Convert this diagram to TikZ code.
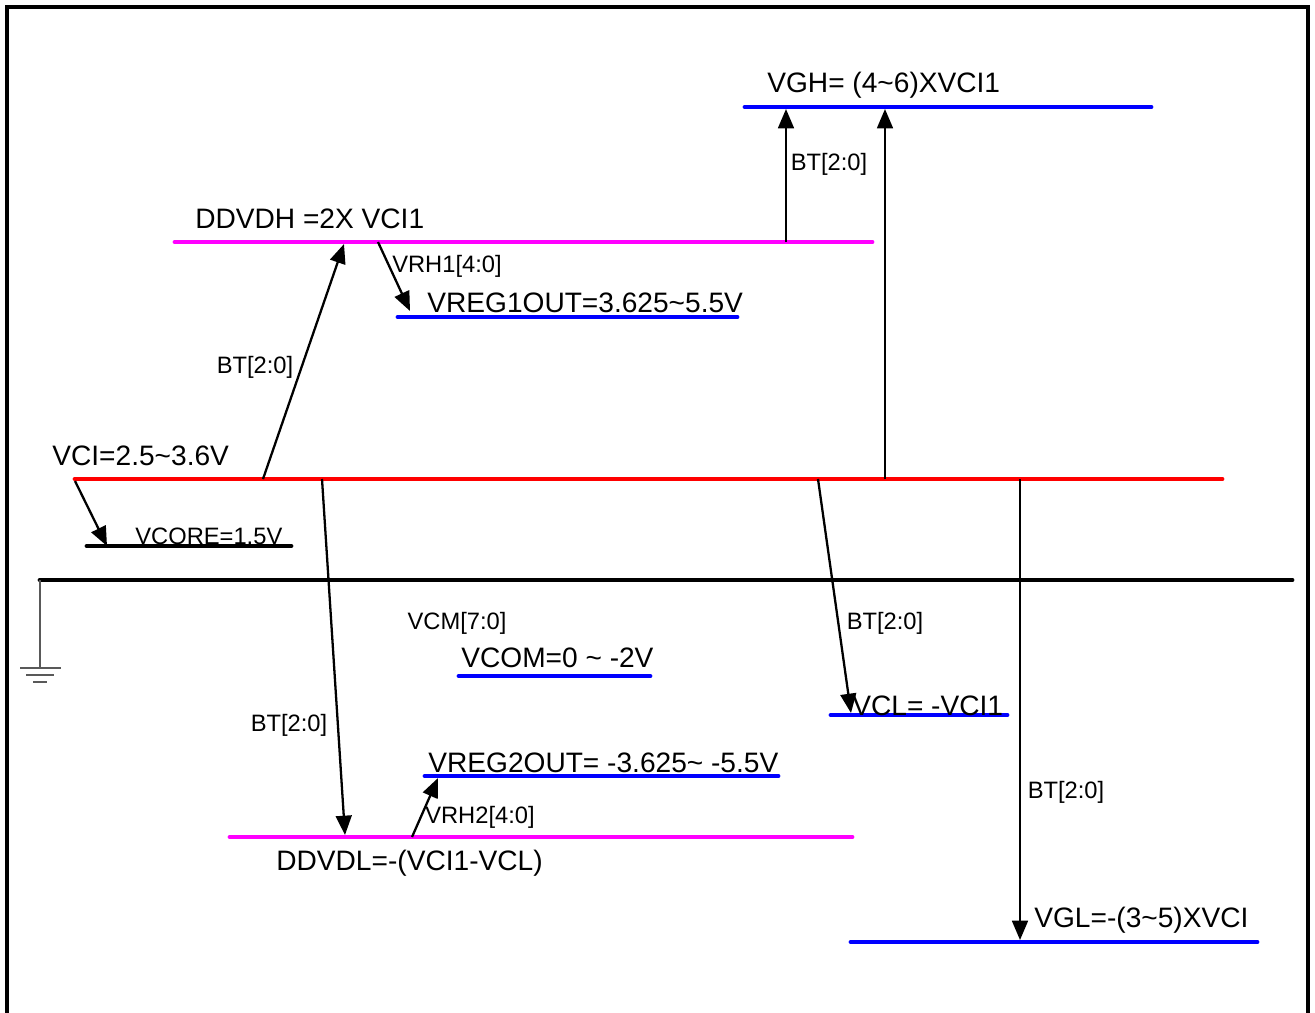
\documentclass[tikz,border=0pt]{standalone}
\usepackage{fontspec}
\setmainfont{Liberation Sans}
\usetikzlibrary{arrows.meta}
\definecolor{lvlblue}{RGB}{0,0,255}
\definecolor{lvlmag}{RGB}{255,0,255}
\definecolor{lvlred}{RGB}{255,0,0}

\begin{document}
\begin{tikzpicture}[x=0.02cm, y=-0.02cm,
        level/.style={line width=2.8pt, line cap=round},
        arr/.style={line width=1.3pt, -{Triangle[length=11pt,width=9pt]}},
        big/.style={font=\fontsize{16}{18}\selectfont, inner sep=0pt},
        small/.style={font=\fontsize{13.5}{15}\selectfont, inner sep=0pt}]
        \useasboundingbox (0,0) rectangle (1315,1012);

        % Frame
        \draw[line width=2.8pt] (7,1040) -- (7,7) -- (1308,7) -- (1308,1040);

        % Define level ends
        \coordinate (vgh-l)   at (745,107);  \coordinate (vgh-r)   at (1151,107);
        \coordinate (ddvdh-l) at (175,242);  \coordinate (ddvdh-r) at (872,242);
        \coordinate (vreg1-l) at (398,317);  \coordinate (vreg1-r) at (737,317);
        \coordinate (vci-l)   at (75,479);   \coordinate (vci-r)   at (1222,479);
        \coordinate (vcore-l) at (87,546);   \coordinate (vcore-r) at (291,546);
        \coordinate (gnd-l)   at (40,580);   \coordinate (gnd-r)   at (1292,580);
        \coordinate (vcom-l)  at (459,676);  \coordinate (vcom-r)  at (650,676);
        \coordinate (vcl-l)   at (831,715);  \coordinate (vcl-r)   at (1007,715);
        \coordinate (vreg2-l) at (425,776);  \coordinate (vreg2-r) at (778,776);
        \coordinate (ddvdl-l) at (230,837);  \coordinate (ddvdl-r) at (852,837);
        \coordinate (vgl-l)   at (851,942);  \coordinate (vgl-r)   at (1257,942);

        % Draw levels
        \draw[level, lvlblue] (vgh-l) -- (vgh-r);
        \draw[level, lvlmag]  (ddvdh-l) -- (ddvdh-r);
        \draw[level, lvlblue] (vreg1-l) -- (vreg1-r);
        \draw[level, lvlred]  (vci-l) -- (vci-r);
        \draw[level, black]   (vcore-l) -- (vcore-r);
        \draw[level, black]   (gnd-l) -- (gnd-r);
        \draw[level, lvlblue] (vcom-l) -- (vcom-r);
        \draw[level, lvlblue] (vcl-l) -- (vcl-r);
        \draw[level, lvlblue] (vreg2-l) -- (vreg2-r);
        \draw[level, lvlmag]  (ddvdl-l) -- (ddvdl-r);
        \draw[level, lvlblue] (vgl-l) -- (vgl-r);

        % Ground
        \coordinate (gnd-b) at (40,668);
        \draw[gray!70!black, line width=0.7pt] (gnd-l) -- (gnd-b);
        \draw[gray!70!black, line width=0.9pt] (20,668) -- (61,668)
            (26,675) -- (54,675) (33,682) -- (47,682);

        % Level labels
        \node[big, anchor=base west] (vgh)   at (767,92)  {VGH= (4\textasciitilde6)XVCI1};
        \node[big, anchor=base west] (ddvdh) at (195,228) {DDVDH =2X VCI1};
        \node[big, anchor=base west] (vreg1) at (427,312) {VREG1OUT=3.625\textasciitilde5.5V};
        \node[big, anchor=base west] (vci)   at (52,465)  {VCI=2.5\textasciitilde3.6V};
        \node[small, anchor=base west] (vcore) at (135,544) {VCORE=1.5V};
        \node[big, anchor=base west] (vcom)  at (461,667) {VCOM=0 \textasciitilde{} -2V};
        \node[big, anchor=base west] (vcl)   at (852,715) {VCL= -VCI1};
        \node[big, anchor=base west] (vreg2) at (428,772) {VREG2OUT= -3.625\textasciitilde{} -5.5V};
        \node[big, anchor=base west] (ddvdl) at (276,870) {DDVDL=-(VCI1-VCL)};
        \node[big, anchor=base west] (vgl)   at (1034,927) {VGL=-(3\textasciitilde5)XVCI};

        % Arrow ends
        \coordinate (a1s) at (75,481);  \coordinate (a1e) at (107,546);
        \coordinate (a2s) at (263,479); \coordinate (a2e) at (344,244);
        \coordinate (a3s) at (378,242); \coordinate (a3e) at (410,311);
        \coordinate (a4s) at (786,242); \coordinate (a4e) at (786,109);
        \coordinate (a5s) at (885,479); \coordinate (a5e) at (885,109);
        \coordinate (a6s) at (322,479); \coordinate (a6e) at (345,835);
        \coordinate (a7s) at (412,837); \coordinate (a7e) at (438,778);
        \coordinate (a8s) at (818,479); \coordinate (a8e) at (851,713);
        \coordinate (a9s) at (1020,479); \coordinate (a9e) at (1020,940);

        % Draw arrows
        \draw[arr] (a1s) -- (a1e);
        \draw[arr] (a2s) -- (a2e);
        \draw[arr] (a3s) -- (a3e);
        \draw[arr] (a4s) -- (a4e);
        \draw[arr] (a5s) -- (a5e);
        \draw[arr] (a6s) -- (a6e);
        \draw[arr] (a7s) -- (a7e);
        \draw[arr] (a8s) -- (a8e);
        \draw[arr] (a9s) -- (a9e);

        % Arrow labels
        \node[small] (bt1)  at (255,367) {BT[2:0]};
        \node[small] (bt2)  at (829,164) {BT[2:0]};
        \node[small] (bt3)  at (289,725) {BT[2:0]};
        \node[small] (bt4)  at (885,623) {BT[2:0]};
        \node[small] (bt5)  at (1066,792) {BT[2:0]};
        \node[small] (vrh1) at (447,266) {VRH1[4:0]};
        \node[small] (vrh2) at (480,817) {VRH2[4:0]};
        \node[small] (vcm)  at (457,623) {VCM[7:0]};
    \end{tikzpicture}
\end{document}
